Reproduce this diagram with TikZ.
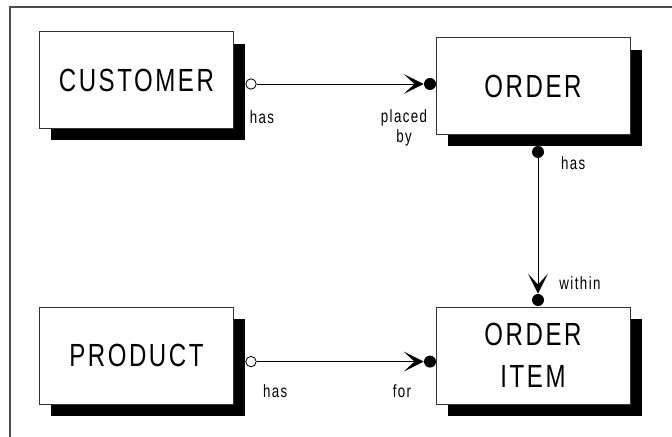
\documentclass[tikz,border=0pt]{standalone}
\usepackage{fontspec}
\usetikzlibrary{arrows.meta,shadows}
\newfontfamily\erfont[FakeStretch=0.75,LetterSpace=8]{Liberation Sans}

\begin{document}
\begin{tikzpicture}
\tikzstyle{entity}=[rectangle, draw=black!80, line width=0.6pt, fill=white, minimum width=4.85cm, minimum height=2.42cm, align=center, font={\erfont\fontsize{22.8}{30}\selectfont}, drop shadow={shadow xshift=0.3cm, shadow yshift=-0.3cm, opacity=1, fill=black}]
\tikzstyle{optional}=[circle, draw=black, line width=0.6pt, fill=white, inner sep=0pt, minimum size=0.26cm]
\tikzstyle{mandatory}=[circle, fill=black, inner sep=0pt, minimum size=0.3cm]
\tikzstyle{role}=[font={\erfont\fontsize{12.6}{14.2}\selectfont}, align=center, inner sep=0pt]
\tikzstyle{rel}=[line width=0.7pt, -{Stealth[length=0.5cm, width=0.5cm, inset=0.27cm]}]

\useasboundingbox (0,0) rectangle (16.8,-10.925);

% Frame
\draw [black!70, line width=1pt] (17,-0.175) -- (0.25,-0.175) -- (0.25,-11);

% Entities
\node at (3.41,-2.0) [entity] (customer) {CUSTOMER};
\node at (13.325,-2.15) [entity] (order) {ORDER};
\node at (3.41,-8.89) [entity] (product) {PRODUCT};
\node at (13.325,-8.89) [entity] (item) {ORDER\\ITEM};

% Ends
\node at (6.275,-2.1) [optional] (customer_end) {};
\node at (10.75,-2.1) [mandatory] (order_west) {};
\node at (13.45,-3.8) [mandatory] (order_south) {};
\node at (13.45,-7.5) [mandatory] (item_north) {};
\node at (6.275,-9.04) [optional] (product_end) {};
\node at (10.75,-9.04) [mandatory] (item_west) {};

% Relationships
\draw [rel] (customer_end) to (order_west);
\draw [rel] (order_south) to (item_north);
\draw [rel] (product_end) to (item_west);

% Text
\node at (6.55,-2.93) [role] (has_1) {has};
\node at (10.1,-3.2) [role] (placed_by) {placed\\by};
\node at (14.33,-4.08) [role] (has_2) {has};
\node at (14.5,-7.08) [role] (within) {within};
\node at (6.88,-9.78) [role] (has_3) {has};
\node at (10.05,-9.78) [role] (for) {for};
\end{tikzpicture}
\end{document}
